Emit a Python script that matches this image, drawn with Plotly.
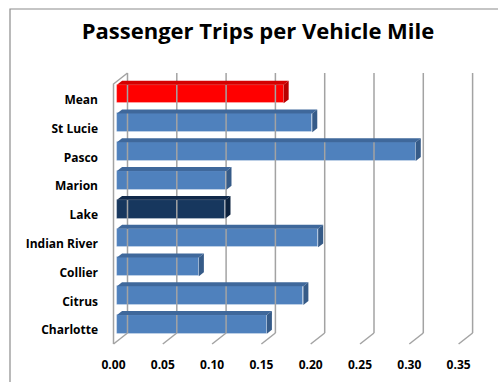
import plotly.graph_objects as go

# Passenger trips per vehicle mile by county (top to bottom as listed)
categories = ["Mean", "St Lucie", "Pasco", "Marion", "Lake",
              "Indian River", "Collier", "Citrus", "Charlotte"]
values = [0.169, 0.198, 0.303, 0.111, 0.110, 0.204, 0.083, 0.189, 0.152]
bar_kind = ["mean", "county", "county", "county", "highlight",
            "county", "county", "county", "county"]
x_ticks = [0.00, 0.05, 0.10, 0.15, 0.20, 0.25, 0.30, 0.35]

# face colours: (front, top, side)
palette = {
    "county": ("#4f81bd", "#3f689b", "#365b88"),
    "mean": ("#ff0000", "#d40000", "#b80000"),
    "highlight": ("#17375e", "#10294a", "#0d223e"),
}

W, H = 498, 382
L, R, T, B = 100, 490, 60, 350          # plot area in pixels
PX_X = 986.0                            # pixels per unit of x
PX_Y = 28.8                             # pixels per category step
X0_PX = 113.5                           # x = 0 on the front plane
Y_TOP_PX = 96.75                        # centre of first category

x_range = [(L - X0_PX) / PX_X, (R - X0_PX) / PX_X]
n = len(categories)
top_val = n - 1
y_range = [top_val - (B - Y_TOP_PX) / PX_Y, top_val + (Y_TOP_PX - T) / PX_Y]

# depth of the 3-D box (front plane -> back wall)
DX = 14.0 / PX_X
DY = 11.0 / PX_Y
D_FRONT, D_BACK = 0.25, 0.61            # bar depth span
BAR_H = 0.65

y_floor = top_val - (344 - Y_TOP_PX) / PX_Y
y_ceil = top_val - (84 - Y_TOP_PX) / PX_Y

fig = go.Figure()

# back wall gridlines, floor ticks and left wall outline
gx, gy = [], []
for v in x_ticks:
    gx += [v + DX, v + DX, None]
    gy += [y_floor + DY, y_ceil + DY, None]
    gx += [v, v + DX, None]
    gy += [y_floor, y_floor + DY, None]
gx += [0, 0, DX, None]
gy += [y_floor, y_ceil, y_ceil + DY, None]
fig.add_trace(go.Scatter(x=gx, y=gy, mode="lines",
                         line=dict(color="#a3a3a3", width=1.5),
                         hoverinfo="skip", showlegend=False))

ys = [top_val - i for i in range(n)]
fx, fy = D_FRONT * DX, D_FRONT * DY
bx, by = D_BACK * DX, D_BACK * DY

# front faces of the bars
fig.add_trace(go.Bar(
    y=[y + fy for y in ys], x=values, base=fx, orientation="h",
    width=BAR_H,
    marker=dict(color=[palette[k][0] for k in bar_kind],
                line=dict(color="rgba(255,255,255,0.35)", width=0.8)),
    hoverinfo="skip", showlegend=False))

# top and side faces
for y, v, k in zip(ys, values, bar_kind):
    top = y + BAR_H / 2
    bot = y - BAR_H / 2
    fig.add_trace(go.Scatter(
        x=[fx, v + fx, v + bx, bx, fx],
        y=[top + fy, top + fy, top + by, top + by, top + fy],
        fill="toself", fillcolor=palette[k][1], mode="lines",
        line=dict(width=0, color=palette[k][1]),
        hoverinfo="skip", showlegend=False))
    fig.add_trace(go.Scatter(
        x=[v + fx, v + fx, v + bx, v + bx, v + fx],
        y=[bot + fy, top + fy, top + by, bot + by, bot + fy],
        fill="toself", fillcolor=palette[k][2], mode="lines",
        line=dict(width=0, color=palette[k][2]),
        hoverinfo="skip", showlegend=False))

label_font = dict(family="Open Sans", size=12, color="#000000", weight="bold")

fig.update_layout(
    width=W, height=H,
    margin=dict(l=L, r=W - R, t=T, b=H - B),
    paper_bgcolor="white", plot_bgcolor="white",
    title=dict(text="Passenger Trips per Vehicle Mile",
               x=258 / W, xanchor="center",
               y=1 - 31 / H, yanchor="middle",
               font=dict(family="Open Sans", size=22, color="#000000",
                         weight="bold")),
    xaxis=dict(range=x_range, showgrid=False, zeroline=False,
               showline=False, tickvals=x_ticks,
               ticktext=[f"{t:.2f}" for t in x_ticks],
               ticks="", tickfont=label_font, ticklabelstandoff=6,
               fixedrange=True),
    yaxis=dict(range=y_range, showgrid=False, zeroline=False,
               showline=False,
               tickvals=[y - 3 / PX_Y for y in ys], ticktext=categories,
               ticks="", tickfont=label_font, ticklabelstandoff=1,
               fixedrange=True),
    bargap=0,
)

# chart frame
fig.add_shape(type="rect", xref="paper", yref="paper",
              x0=(10 - L) / (R - L), x1=(520 - L) / (R - L),
              y0=(B - 400) / (B - T), y1=(B - 9) / (B - T),
              line=dict(color="#8c8c8c", width=1.2), fillcolor="rgba(0,0,0,0)",
              layer="below")

fig.write_html("out.html")
